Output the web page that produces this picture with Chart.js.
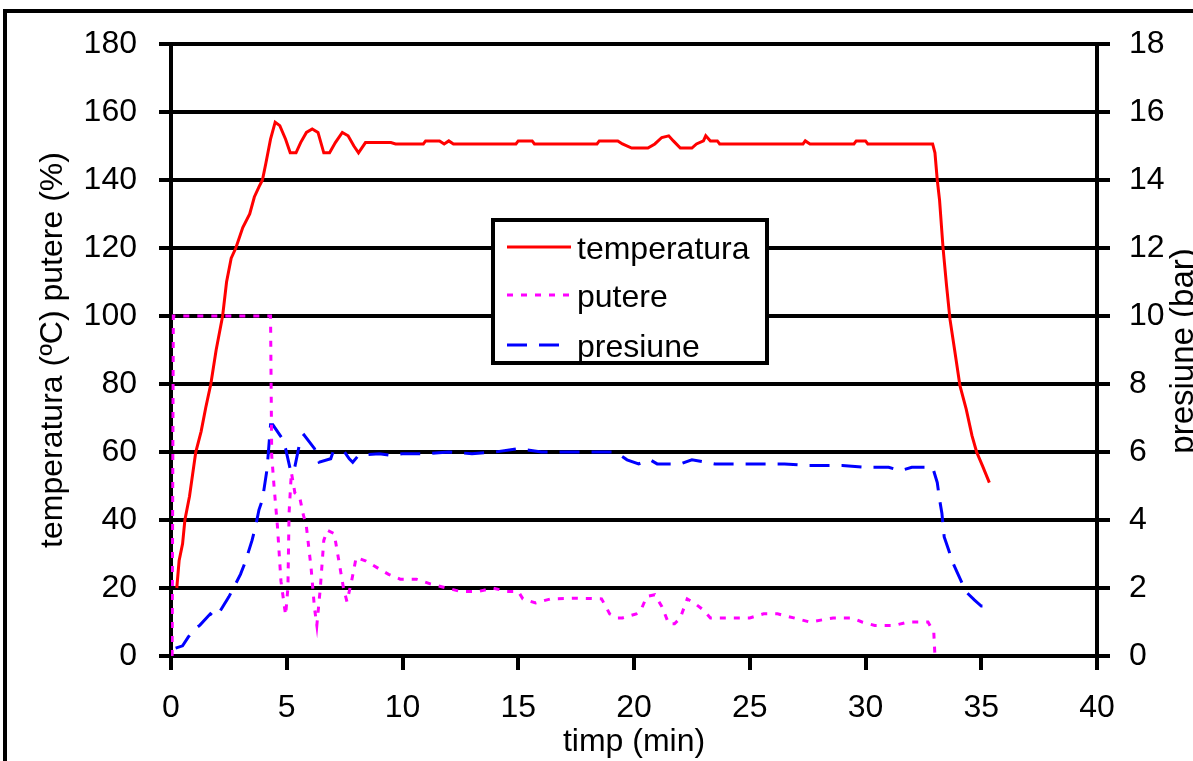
<!DOCTYPE html>
<html>
<head>
<meta charset="utf-8">
<title>temperatura / putere / presiune</title>
<script src="https://cdn.jsdelivr.net/npm/chart.js@4.4.1/dist/chart.umd.min.js"></script>
<style>
  html, body { margin: 0; padding: 0; background: #fff; }
  #wrap { width: 1193px; height: 761px; }
</style>
</head>
<body>
<div id="wrap"><canvas id="chart" width="1193" height="761"></canvas></div>
<script>
// series: time in minutes
const tempTime = [0.25, 0.35, 0.5, 0.6, 0.8, 1.07, 1.3, 1.5, 1.72, 1.95, 2.23, 2.4, 2.6, 2.8, 3.1, 3.4, 3.6, 3.8, 3.95, 4.1, 4.3, 4.5, 4.7, 4.95, 5.15, 5.4, 5.6, 5.85, 6.1, 6.35, 6.6, 6.85, 7.1, 7.4, 7.65, 7.9, 8.1, 8.4, 9.5, 9.7, 10.9, 11.0, 11.6, 11.8, 12.0, 12.2, 14.9, 15.0, 15.6, 15.7, 18.4, 18.5, 19.3, 19.5, 19.9, 20.6, 20.9, 21.2, 21.5, 21.7, 22.0, 22.5, 22.7, 23.0, 23.1, 23.3, 23.6, 23.7, 27.3, 27.4, 27.6, 29.5, 29.6, 30.0, 30.1, 32.9, 33.0, 33.1, 33.2, 33.35, 33.5, 33.65, 33.85, 34.08, 34.35, 34.6, 34.8, 35.05, 35.35];
const tempValues = [20, 28, 33, 40, 47, 60, 66, 73, 80, 90, 100, 110, 117, 120, 126, 130, 135, 138, 140, 145, 152, 157, 156, 152, 148, 148, 151, 154, 155, 154, 148, 148, 151, 154, 153, 150, 148, 151, 151, 150.6, 150.6, 151.5, 151.5, 150.6, 151.5, 150.6, 150.6, 151.5, 151.5, 150.6, 150.6, 151.5, 151.5, 150.6, 149.4, 149.4, 150.6, 152.5, 153, 151.5, 149.4, 149.4, 150.6, 151.5, 153, 151.5, 151.5, 150.6, 150.6, 151.5, 150.6, 150.6, 151.5, 151.5, 150.6, 150.6, 148, 140, 134, 120, 109, 99, 90, 79.5, 72.6, 64.8, 60, 56, 51];

const powerTime = [0.05, 0.1, 4.3, 4.35, 4.45, 4.6, 4.75, 4.95, 5.05, 5.1, 5.2, 5.35, 5.55, 5.7, 5.85, 6.05, 6.2, 6.3, 6.45, 6.6, 6.75, 7.05, 7.25, 7.45, 7.6, 7.8, 8.0, 8.4, 8.9, 9.4, 9.9, 10.6, 11.2, 11.9, 12.5, 13.3, 13.9, 14.5, 15.0, 15.2, 15.75, 16.4, 17.5, 18.6, 18.95, 19.3, 19.5, 20.1, 20.3, 20.55, 20.9, 21.2, 21.5, 21.75, 22.0, 22.3, 22.6, 23.0, 23.3, 24.1, 25.0, 25.6, 26.2, 26.9, 27.6, 28.6, 29.4, 29.85, 30.4, 31.25, 31.85, 32.7, 32.95, 33.0];
const powerValues = [0, 100, 100, 59, 50, 38, 22, 12, 20, 42, 54, 48, 47, 42, 38, 26, 14, 9, 20, 34, 37, 36, 28, 20, 16, 22, 29, 28, 26, 24, 22.6, 22.6, 21.2, 20, 19, 19, 20, 19, 19, 16.8, 15.6, 16.8, 17, 16.8, 12.4, 11.2, 11.2, 12.4, 13.5, 17.5, 18, 14.6, 9.5, 9.5, 11.2, 16.8, 15.6, 13.5, 11.2, 11.2, 11.2, 12.4, 12.4, 11.2, 10, 11.2, 11.2, 10, 9, 9, 10, 10, 7, 0];

const pressTime = [0.2, 0.5, 0.75, 0.95, 1.25, 1.7, 1.85, 2.05, 2.5, 2.7, 3.0, 3.2, 3.5, 3.65, 3.8, 3.95, 4.15, 4.3, 4.4, 4.8, 4.95, 5.15, 5.3, 5.6, 5.75, 6.2, 6.4, 6.9, 7.0, 7.5, 7.7, 7.85, 8.1, 9.0, 9.5, 10, 11, 12, 13, 14, 15, 16, 18, 19.2, 19.7, 20.2, 20.7, 21, 22, 22.5, 23.5, 25, 26.5, 27.5, 29, 30, 31, 31.5, 32, 32.9, 33.1, 33.2, 33.3, 33.4, 33.6, 33.8, 34.0, 34.2, 34.4, 34.7, 35.0, 35.3];
const pressValues = [0.23, 0.3, 0.56, 0.75, 0.91, 1.24, 1.15, 1.24, 1.74, 2.0, 2.4, 2.75, 3.4, 3.8, 4.3, 4.6, 5.5, 6.8, 6.8, 6.4, 6.1, 5.5, 5.4, 6.4, 6.5, 6.1, 5.7, 5.8, 6.0, 6.0, 5.8, 5.7, 5.9, 5.95, 5.9, 5.95, 5.95, 6.0, 5.95, 6.0, 6.1, 6.0, 6.0, 6.0, 5.77, 5.65, 5.77, 5.65, 5.65, 5.77, 5.65, 5.65, 5.65, 5.6, 5.6, 5.55, 5.55, 5.45, 5.55, 5.55, 5.1, 4.6, 4.2, 3.5, 3.1, 2.7, 2.4, 2.1, 1.85, 1.65, 1.47, 1.47];

const seriesLabels = ['temperatura', 'putere', 'presiune'];
const xTitle = 'timp (min)';
const yTitle = 'temperatura (ºC) putere (%)';
const y1Title = 'presiune (bar)';

const FONT = "'Liberation Sans', Arial, sans-serif";

function toPoints(xs, ys) {
    return xs.map((x, i) => ({ x: x, y: ys[i] }));
}

// outer frame, legend box and right-hand title (drawn on the canvas)
const extras = {
    id: 'extras',
    afterDraw(chart) {
        const ctx = chart.ctx;
        ctx.save();

        // frame around the whole picture
        ctx.strokeStyle = '#000';
        ctx.lineWidth = 4;
        ctx.strokeRect(5, 11, 1400, 1000);

        // legend
        const bx = 493, by = 220, bw = 274, bh = 143;
        ctx.fillStyle = '#fff';
        ctx.fillRect(bx, by, bw, bh);
        ctx.lineWidth = 4;
        ctx.strokeStyle = '#000';
        ctx.strokeRect(bx, by, bw, bh);

        const rows = [247, 295, 345];
        chart.data.datasets.forEach((ds, i) => {
            const y = rows[i];
            ctx.beginPath();
            ctx.strokeStyle = ds.borderColor;
            ctx.lineWidth = 3;
            ctx.setLineDash(ds.borderDash || []);
            ctx.moveTo(507, y);
            ctx.lineTo(571, y);
            ctx.stroke();
            ctx.setLineDash([]);
            ctx.fillStyle = '#000';
            ctx.font = '32px ' + FONT;
            ctx.textAlign = 'left';
            ctx.textBaseline = 'alphabetic';
            ctx.fillText(ds.label, 577, y + 12);
        });

        // right axis title reads bottom to top
        ctx.translate(1184, 351);
        ctx.rotate(-Math.PI / 2);
        ctx.fillStyle = '#000';
        ctx.font = '33px ' + FONT;
        ctx.textAlign = 'center';
        ctx.textBaseline = 'middle';
        ctx.fillText(y1Title, 0, 0);

        ctx.restore();
    }
};

const tickFont = { family: FONT, size: 32, lineHeight: 1.2 };

new Chart(document.getElementById('chart'), {
    type: 'line',
    data: {
        datasets: [{
            label: seriesLabels[0],
            data: toPoints(tempTime, tempValues),
            borderColor: '#ff0000',
            borderWidth: 3,
            yAxisID: 'y'
        }, {
            label: seriesLabels[1],
            data: toPoints(powerTime, powerValues),
            borderColor: '#ff00ff',
            borderWidth: 3,
            borderDash: [6, 8],
            yAxisID: 'y'
        }, {
            label: seriesLabels[2],
            data: toPoints(pressTime, pressValues),
            borderColor: '#0000ff',
            borderWidth: 3,
            borderDash: [20, 12],
            yAxisID: 'y1'
        }]
    },
    options: {
        responsive: false,
        animation: false,
        devicePixelRatio: 1,
        elements: {
            point: { radius: 0 },
            line: { tension: 0, fill: false, borderCapStyle: 'butt' }
        },
        layout: { padding: { top: 44, left: 0, right: 0, bottom: 0 } },
        plugins: {
            legend: { display: false },
            tooltip: { enabled: false }
        },
        scales: {
            x: {
                type: 'linear',
                min: 0,
                max: 40,
                ticks: { stepSize: 5, color: '#000', font: tickFont, padding: 19, maxRotation: 0 },
                grid: { drawOnChartArea: false, drawTicks: true, tickLength: 14, color: '#000', lineWidth: 4 },
                border: { color: '#000', width: 4 },
                title: { display: true, text: xTitle, color: '#000', font: tickFont, padding: { top: 0, bottom: 0 } },
                afterFit(scale) { scale.height = 105; }
            },
            y: {
                position: 'left',
                min: 0,
                max: 180,
                ticks: { stepSize: 20, color: '#000', font: tickFont, padding: 22 },
                grid: { color: '#000', lineWidth: 4, tickLength: 12 },
                border: { color: '#000', width: 4 },
                title: { display: true, text: yTitle, color: '#000', font: tickFont, padding: { top: 34, bottom: 0 } },
                afterFit(scale) { scale.width = 171; }
            },
            y1: {
                position: 'right',
                min: 0,
                max: 18,
                ticks: { stepSize: 2, color: '#000', font: tickFont, padding: 19 },
                grid: { drawOnChartArea: false, color: '#000', lineWidth: 4, tickLength: 13 },
                border: { color: '#000', width: 4 },
                afterFit(scale) { scale.width = 96; }
            }
        }
    },
    plugins: [extras]
});
</script>
</body>
</html>
